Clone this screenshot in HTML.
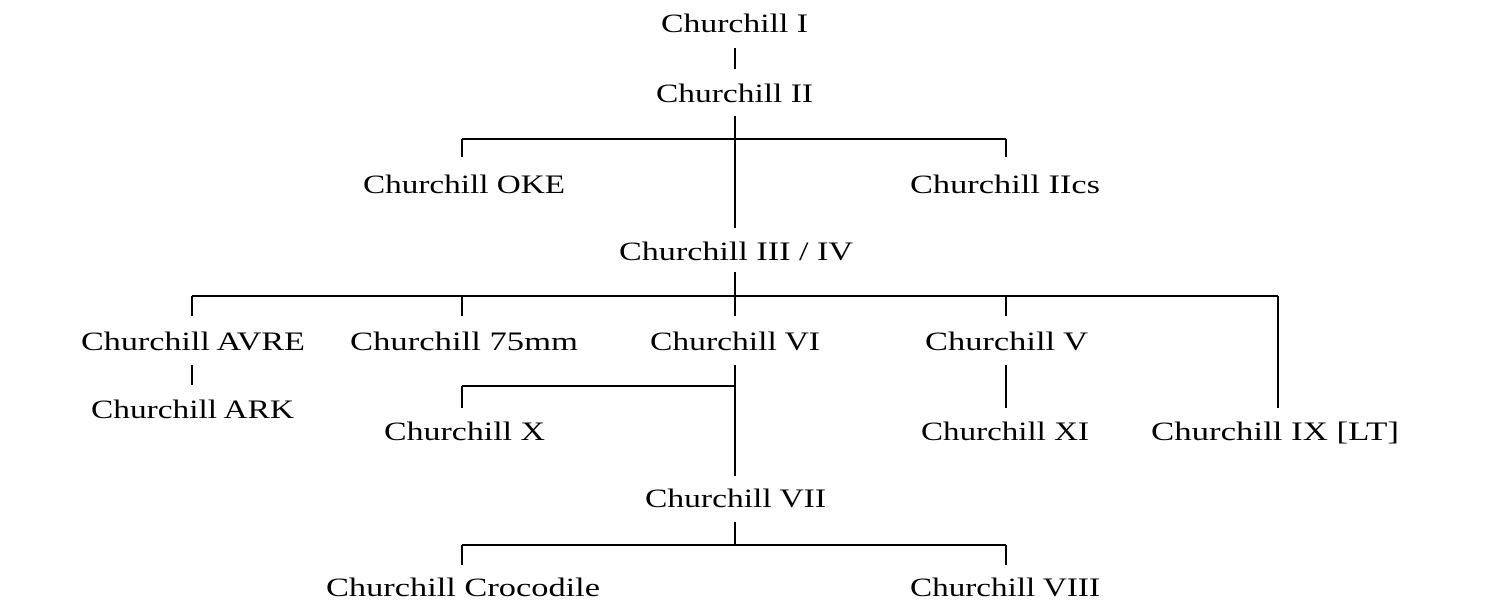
<!DOCTYPE html>
<html><head><meta charset="utf-8"><style>
html,body{margin:0;padding:0;background:#fff;}
svg{display:block;}
text{font-family:"Liberation Serif",serif;font-size:26px;fill:#000;}
</style></head><body>
<svg width="1487" height="611" viewBox="0 0 1487 611">
<g stroke="#000" stroke-width="2" fill="none">
<line x1="735" y1="48" x2="735" y2="69"/>
<line x1="735" y1="116" x2="735" y2="228"/>
<line x1="462" y1="139" x2="1006" y2="139"/>
<line x1="462" y1="139" x2="462" y2="157"/>
<line x1="1006" y1="139" x2="1006" y2="157"/>
<line x1="735" y1="272" x2="735" y2="316"/>
<line x1="192" y1="296" x2="1278" y2="296"/>
<line x1="192" y1="296" x2="192" y2="316"/>
<line x1="462" y1="296" x2="462" y2="316"/>
<line x1="1006" y1="296" x2="1006" y2="316"/>
<line x1="1278" y1="296" x2="1278" y2="408"/>
<line x1="192" y1="365" x2="192" y2="385"/>
<line x1="735" y1="365" x2="735" y2="476"/>
<line x1="462" y1="386" x2="735" y2="386"/>
<line x1="462" y1="386" x2="462" y2="408"/>
<line x1="1006" y1="365" x2="1006" y2="408"/>
<line x1="735" y1="522" x2="735" y2="545"/>
<line x1="462" y1="545" x2="1006" y2="545"/>
<line x1="462" y1="545" x2="462" y2="565"/>
<line x1="1006" y1="545" x2="1006" y2="565"/>
</g>
<text x="661" y="32" textLength="147" lengthAdjust="spacingAndGlyphs">Churchill I</text>
<text x="656" y="102" textLength="157" lengthAdjust="spacingAndGlyphs">Churchill II</text>
<text x="363" y="193" textLength="202" lengthAdjust="spacingAndGlyphs">Churchill OKE</text>
<text x="910" y="193" textLength="190" lengthAdjust="spacingAndGlyphs">Churchill IIcs</text>
<text x="619" y="260" textLength="234" lengthAdjust="spacingAndGlyphs">Churchill III / IV</text>
<text x="81" y="350" textLength="224" lengthAdjust="spacingAndGlyphs">Churchill AVRE</text>
<text x="350" y="350" textLength="228" lengthAdjust="spacingAndGlyphs">Churchill 75mm</text>
<text x="650" y="350" textLength="170" lengthAdjust="spacingAndGlyphs">Churchill VI</text>
<text x="925" y="350" textLength="163" lengthAdjust="spacingAndGlyphs">Churchill V</text>
<text x="91" y="418" textLength="203" lengthAdjust="spacingAndGlyphs">Churchill ARK</text>
<text x="384" y="440" textLength="161" lengthAdjust="spacingAndGlyphs">Churchill X</text>
<text x="921" y="440" textLength="168" lengthAdjust="spacingAndGlyphs">Churchill XI</text>
<text x="1151" y="440" textLength="248" lengthAdjust="spacingAndGlyphs">Churchill IX [LT]</text>
<text x="645" y="507" textLength="181" lengthAdjust="spacingAndGlyphs">Churchill VII</text>
<text x="326" y="596" textLength="274" lengthAdjust="spacingAndGlyphs">Churchill Crocodile</text>
<text x="910" y="596" textLength="190" lengthAdjust="spacingAndGlyphs">Churchill VIII</text>
</svg>
</body></html>
